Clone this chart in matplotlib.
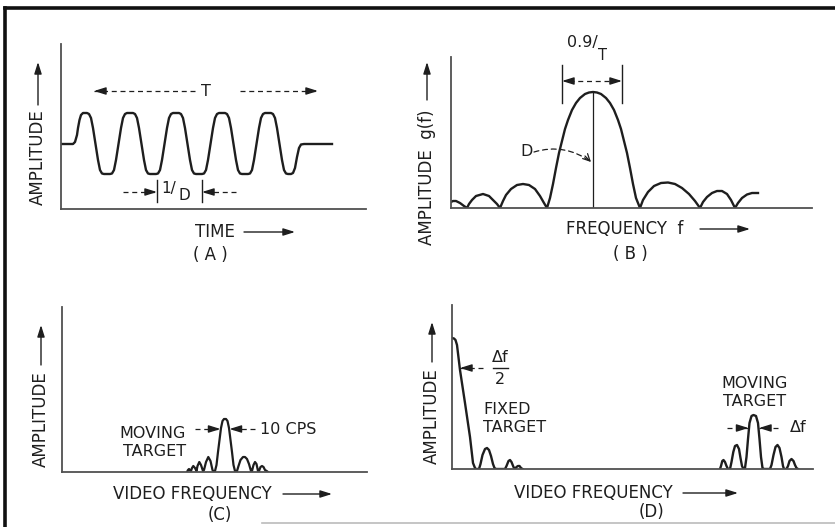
import matplotlib
matplotlib.use("Agg")
import matplotlib.pyplot as plt
from matplotlib.lines import Line2D

# ---- data (units ~ pixels from each panel's origin) ----
# (A) pulse train vs time
time_x = [0, 12, 14, 16, 17, 18.5, 20, 22, 26, 28, 30, 32, 34.5, 37, 39, 41, 43,
          49, 51, 53, 55, 57.5, 60, 62, 64, 66, 72, 74, 76, 78, 80.5, 83, 85, 87, 89,
          95, 97, 99, 101, 103.5, 106, 108, 110, 112, 118, 120, 122, 124, 126.5, 129,
          131, 133, 135, 141, 143, 145, 147, 149.5, 152, 154, 156, 158, 164, 166, 168,
          170, 172.5, 175, 177, 179, 181, 187, 189, 191, 193, 195.5, 198, 200, 202,
          204, 210, 212, 214, 216, 218.5, 221, 223, 225, 227, 230, 232, 234, 236, 238,
          240, 243, 271]
time_amp = [65, 65, 67, 74, 81, 89, 94, 96, 96, 95, 91, 81, 65, 49, 39, 35.5, 35,
            35, 35.5, 39, 49, 65, 81, 91, 95, 96, 96, 95, 91, 81, 65, 49, 39, 35.5, 35,
            35, 35.5, 39, 49, 65, 81, 91, 95, 96, 96, 95, 91, 81, 65, 49,
            39, 35.5, 35, 35, 35.5, 39, 49, 65, 81, 91, 95, 96, 96, 95, 91,
            81, 65, 49, 39, 35.5, 35, 35, 35.5, 39, 49, 65, 81, 91, 95,
            96, 96, 95, 91, 81, 65, 49, 39, 35.5, 35, 35, 36, 41, 52, 61,
            64.5, 65, 65]

# (B) spectrum g(f)
freq_x = [0, 2, 5, 9, 13, 16, 18, 21, 25, 32, 38, 42, 46, 49, 52, 55, 60, 66, 72, 78,
          84, 89, 93, 96, 99, 102, 105, 108, 111, 114, 117, 121, 125, 129, 134, 138,
          142, 146, 150, 155, 159, 163, 167, 170, 173, 176, 179, 182, 185, 189, 192,
          197, 203, 210, 217, 224, 231, 238, 244, 249, 252, 256, 261, 266, 271, 276,
          280, 284, 287, 291, 296, 301, 307]
freq_g = [6, 7, 7, 5, 2, 0, 4, 8, 12, 14, 12, 8, 4, 0, 7, 13, 19, 23, 24, 23,
          19, 12, 5, 0, 10, 24, 40, 55, 67, 79, 88, 98, 105, 110, 114, 115.5,
          116, 115.5, 114, 110, 105, 98, 88, 79, 67, 55, 40, 24, 10, 0, 8,
          16, 22, 25, 25.5, 24, 20, 14, 7, 0, 6, 11, 15, 17, 17, 14,
          8, 0, 5, 10, 13.5, 15, 15]
center_f = 142
center_g = 116

# (C) moving target spectrum
c_x = [125, 126, 127, 128, 129, 130, 131.3, 133, 134.5, 135.5, 137.3, 139, 141, 142,
       144, 146.3, 148.5, 150.5, 152, 153, 154.5, 156, 157.5, 159, 160.5, 162, 164,
       165.5, 167, 168.5, 170, 171.5, 173, 175, 176.5, 178.5, 181, 183, 185, 187, 189,
       190, 191.5, 193, 194.5, 196, 197, 198.5, 200, 201.5, 203, 204.7, 206]
c_amp = [0, 2, 3, 2, 1, 4, 6, 4, 1, 6, 10, 7, 1, 2,
         10, 15, 11, 2, 0, 1, 7, 20, 32, 44, 51, 53, 53,
         51, 44, 32, 20, 7, 1, 1, 6, 12, 15, 15, 13, 8, 1,
         1, 7, 10, 8, 1, 1, 5, 6, 5, 2, 1, 0]

# (D) fixed + moving target spectrum
fixed_x = [0, 2, 3.5, 5, 8, 13, 18, 21, 23, 24, 27, 28.5, 30.5, 33, 35, 37, 39, 41,
           42.5, 44, 53, 54.5, 56.5, 58, 59.5, 61.5, 63, 64.5, 66, 67.5, 69, 70.5]
fixed_amp = [131, 130.5, 129, 124, 99, 66, 32, 6, 1, 0, 0, 5, 14, 20, 21, 19, 13, 5,
             1, 0, 0, 3, 8, 9, 7, 2, 0, 2, 3, 3, 1, 0]
moving_x = [268, 269, 270.3, 271.5, 273, 274.5, 276, 278, 279.5, 281.3, 283, 285, 287,
            288.5, 290, 291.5, 293, 294.5, 296, 297.5, 299.5, 301.5, 304, 306, 307.5,
            309, 310.5, 312, 318, 319.5, 321.5, 323.5, 325.5, 327.5, 329.5, 331, 332,
            334.5, 336, 337.5, 339.5, 341.5, 343, 344.5, 346]
moving_amp = [0, 3, 8, 9, 7, 3, 0, 0, 7, 17, 23, 24, 20,
              11, 3, 0, 1, 12, 30, 46, 53, 54, 53, 46, 30,
              12, 1, 0, 0, 4, 14, 22, 24, 21, 12, 3, 0,
              0, 3, 8, 10, 8, 4, 1, 0]

INK = "#1e1e1e"
AXC = "#505050"
FS = 12
FS2 = 11.5

plt.rcParams["font.family"] = ["DejaVu Sans"]
fig = plt.figure(figsize=(8.35, 5.27), dpi=100)


def panel(rect, w, h):
    ax = fig.add_axes(rect)
    ax.set_xlim(0, w)
    ax.set_ylim(0, h)
    for s in ("top", "right"):
        ax.spines[s].set_visible(False)
    for s in ("left", "bottom"):
        ax.spines[s].set_color(AXC)
        ax.spines[s].set_linewidth(1.3)
    ax.set_xticks([])
    ax.set_yticks([])
    ax.patch.set_alpha(0)
    return ax


def arrow(ax, tail, tip, lw=1.0):
    ax.annotate("", xy=tip, xytext=tail, annotation_clip=False,
                arrowprops=dict(arrowstyle="-|>,head_length=0.7,head_width=0.22",
                                color=INK, lw=lw, shrinkA=0, shrinkB=0))


def dashed_arrow(ax, tail, tip):
    ax.plot([tail[0], tip[0]], [tail[1], tip[1]], color=INK, lw=0.9,
            dashes=(4, 3), clip_on=False)
    dx = tip[0] - tail[0]
    dy = tip[1] - tail[1]
    n = (dx * dx + dy * dy) ** 0.5
    arrow(ax, (tip[0] - 7 * dx / n, tip[1] - 7 * dy / n), tip)


def txt(ax, x, y, s, size=FS, **kw):
    kw.setdefault("ha", "center")
    kw.setdefault("va", "center")
    ax.text(x, y, s, fontsize=size, color=INK, clip_on=False, **kw)


def ylabel(ax, x, y, s, a0, a1):
    txt(ax, x, y, s, rotation=90)
    arrow(ax, (x, a0), (x, a1))


# ---------------- (A) ----------------
axA = panel([61 / 835, 318 / 527, 305 / 835, 165 / 527], 305, 165)
axA.plot(time_x, time_amp, color=INK, lw=1.7, solid_joinstyle="round")
dashed_arrow(axA, (134, 118), (33, 118))
txt(axA, 145, 118, "T", FS2)
dashed_arrow(axA, (179, 118), (257, 118))
for xv in (96, 141):
    axA.plot([xv, xv], [7, 29], color=INK, lw=1.0)
dashed_arrow(axA, (62, 17), (96, 17))
dashed_arrow(axA, (175, 17), (141, 17))
txt(axA, 108, 21, "1/", FS2 - 0.5)
txt(axA, 123, 14, "D", FS2 - 0.5)
ylabel(axA, -23, 52, "AMPLITUDE", 104, 147)
txt(axA, 154, -23, "TIME", FS)
arrow(axA, (183, -23), (234, -23))
txt(axA, 149, -46, "( A )", FS)

# ---------------- (B) ----------------
axB = panel([451 / 835, 319 / 527, 361 / 835, 151 / 527], 361, 151)
axB.plot(freq_x, freq_g, color=INK, lw=1.7, solid_joinstyle="round")
axB.plot([center_f, center_f], [0, center_g], color=INK, lw=0.9)
for xv in (111, 171):
    axB.plot([xv, xv], [105, 143], color=INK, lw=1.0, clip_on=False)
axB.plot([118, 164], [127, 127], color=INK, lw=0.9, dashes=(4, 3), clip_on=False)
arrow(axB, (119, 127), (111, 127))
arrow(axB, (163, 127), (171, 127))
txt(axB, 131, 166, "0.9/", FS2)
txt(axB, 151, 153, "T", FS2 - 1)
txt(axB, 76, 56, "D", FS2)
axB.annotate("", xy=(140, 46), xytext=(83, 56), annotation_clip=False,
             arrowprops=dict(arrowstyle="-", color=INK, lw=0.9, linestyle=(0, (4, 3)),
                             connectionstyle="arc3,rad=-0.25", shrinkA=0, shrinkB=0))
axB.annotate("", xy=(140, 46), xytext=(134, 52), annotation_clip=False,
             arrowprops=dict(arrowstyle="->,head_length=0.5,head_width=0.25",
                             color=INK, lw=0.9, shrinkA=0, shrinkB=0))
ylabel(axB, -24, 31, "AMPLITUDE  g(f)", 108, 146)
txt(axB, 174, -21, "FREQUENCY  f", FS)
arrow(axB, (249, -21), (299, -21))
txt(axB, 179, -46, "( B )", FS)

# ---------------- (C) ----------------
axC = panel([62 / 835, 55 / 527, 305 / 835, 165 / 527], 305, 165)
axC.plot(c_x, c_amp, color=INK, lw=1.6, solid_joinstyle="round")
txt(axC, 91, 39, "MOVING", FS2)
txt(axC, 93, 21, "TARGET", FS2)
dashed_arrow(axC, (133, 43), (158.5, 43))
dashed_arrow(axC, (193, 43), (167.5, 43))
txt(axC, 198, 43, "10 CPS", FS2, ha="left")
ylabel(axC, -21, 53, "AMPLITUDE", 107, 147)
txt(axC, 130, -22, "VIDEO FREQUENCY", FS)
arrow(axC, (221, -22), (270, -22))
txt(axC, 158, -43, "(C)", FS)

# ---------------- (D) ----------------
axD = panel([452 / 835, 58 / 527, 361 / 835, 164 / 527], 361, 164)
axD.plot(fixed_x, fixed_amp, color=INK, lw=1.7, solid_joinstyle="round")
axD.plot(moving_x, moving_amp, color=INK, lw=1.7, solid_joinstyle="round")
dashed_arrow(axD, (31, 101), (8, 101))
txt(axD, 48, 112, "Δf", FS2)
axD.plot([41, 56], [101.5, 101.5], color=INK, lw=1.0)
txt(axD, 48, 90, "2", FS2)
txt(axD, 31, 59, "FIXED", FS2, ha="left")
txt(axD, 31, 41, "TARGET", FS2, ha="left")
txt(axD, 303, 86, "MOVING", FS2)
txt(axD, 303, 68, "TARGET", FS2)
dashed_arrow(axD, (275, 41), (296.5, 41))
dashed_arrow(axD, (326, 41), (307, 41))
txt(axD, 338, 41, "Δf", FS2, ha="left")
ylabel(axD, -20, 53, "AMPLITUDE", 107, 147)
txt(axD, 141, -24, "VIDEO FREQUENCY", FS)
arrow(axD, (231, -24), (286, -24))
txt(axD, 200, -43, "(D)", FS)

# frame around the figure
fig.add_artist(Line2D([5 / 835, 5 / 835], [0, 1 - 8 / 527], color="#111111", lw=2.6))
fig.add_artist(Line2D([5 / 835, 1], [1 - 8 / 527, 1 - 8 / 527], color="#111111", lw=2.6))
fig.add_artist(Line2D([262 / 835, 1], [4 / 527, 4 / 527], color="#bbbbbb", lw=1.2))

fig.savefig("out.png", dpi=100)
